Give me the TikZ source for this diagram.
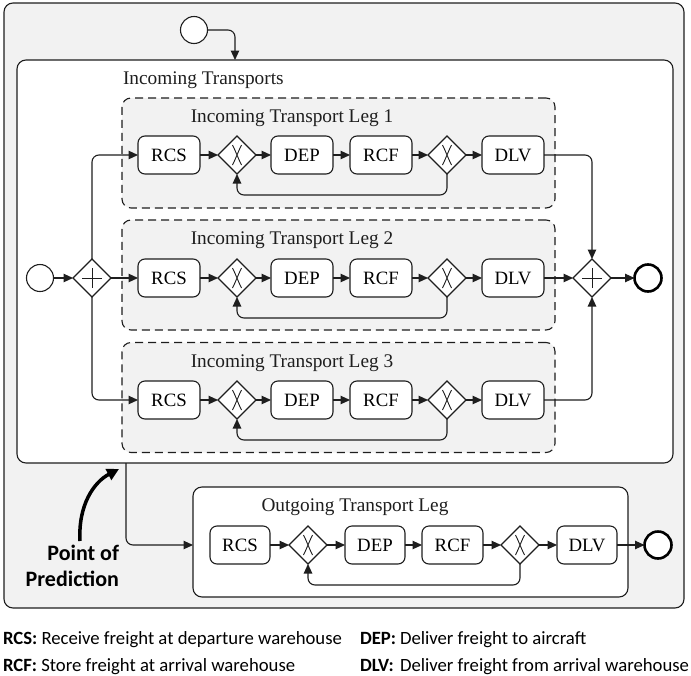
\documentclass[tikz,border=0pt]{standalone}
\usepackage{fontspec}
\setmainfont{Liberation Serif}
\newfontfamily\legfont{Carlito}
\usetikzlibrary{shapes.geometric,arrows.meta,calc}
\definecolor{bg}{HTML}{F2F2F2}
\definecolor{ln}{HTML}{1E1E1E}
\newcommand\xgw[1]{\draw[line width=0.9pt,ln] ([shift={(-4.5,-10)}]#1.center) .. controls ([shift={(-1,-3)}]#1.center) and ([shift={(1,3)}]#1.center) .. ([shift={(4.5,10)}]#1.center) ([shift={(4.5,-10)}]#1.center) .. controls ([shift={(1,-3)}]#1.center) and ([shift={(-1,3)}]#1.center) .. ([shift={(-4.5,10)}]#1.center);}
\newcommand\pgw[1]{\draw[line width=1pt,ln] ([shift={(-10,0)}]#1.center) -- ([shift={(10,0)}]#1.center) ([shift={(0,-10)}]#1.center) -- ([shift={(0,10)}]#1.center);}
\begin{document}
\begin{tikzpicture}[x=1pt,y=-1pt,
  every node/.style={inner sep=0pt, outer sep=0pt},
  task/.style={draw=ln, line width=1.1pt, fill=white, rounded corners=7pt, minimum width=62pt, minimum height=38pt, font=\fontsize{18.8}{20}\selectfont},
  gw/.style={draw=ln, line width=1.1pt, fill=white, diamond, minimum width=38pt, minimum height=38pt},
  ev/.style={draw=ln, line width=1.1pt, fill=white, circle, minimum size=27pt},
  endev/.style={draw=black, line width=2.6pt, fill=white, circle, minimum size=27pt},
  flow/.style={draw=ln, line width=1.1pt, -{Triangle[length=9.5pt,width=8.5pt]}, rounded corners=7pt},
  seg/.style={draw=ln, line width=1.1pt, dash pattern=on 8pt off 5pt, fill=bg, rounded corners=9pt, minimum width=433pt, minimum height=110pt},
  box/.style={draw=ln, line width=1.1pt, rounded corners=9pt},
  lbl/.style={font=\fontsize{19.3}{21}\selectfont, text=ln},
  leg/.style={anchor=base west, font=\legfont\fontsize{18.7}{20}\selectfont},
]
\useasboundingbox (0,0) rectangle (691,675);
% containers
\node[box, fill=bg, minimum width=680pt, minimum height=605pt] (outer) at (344,305.5) {};
\node[box, fill=white, minimum width=656pt, minimum height=403pt] (inc) at (345,261.5) {};
\node[seg] (l1) at (338.5,153) {};
\node[seg] (l2) at (338.5,275) {};
\node[seg] (l3) at (338.5,397.5) {};
\node[box, fill=white, minimum width=435pt, minimum height=110pt] (out) at (410.5,542) {};
% labels
\node[lbl, anchor=west] (tinc) at (123,80) {Incoming Transports};
\node[lbl] (tl1) at (292,118) {Incoming Transport Leg 1};
\node[lbl] (tl2) at (292,240) {Incoming Transport Leg 2};
\node[lbl] (tl3) at (292,363) {Incoming Transport Leg 3};
\node[lbl] (tout) at (355,507) {Outgoing Transport Leg};
% events
\node[ev] (s0) at (194,30) {};
\node[ev] (s1) at (40,278) {};
\node[endev] (e1) at (648,278) {};
\node[endev] (eo) at (658,545) {};
% gateways
\node[gw] (p1) at (92,278) {};
\node[gw] (p2) at (592,278) {};
\pgw{p1}\pgw{p2}
% rows
\foreach \r/\y in {1/155,2/278,3/400}{
  \node[task] (rcs\r) at (169,\y) {RCS};
  \node[gw] (ga\r) at (237,\y) {};
  \node[task] (dep\r) at (302,\y) {DEP};
  \node[task] (rcf\r) at (381,\y) {RCF};
  \node[gw] (gb\r) at (447,\y) {};
  \node[task] (dlv\r) at (513,\y) {DLV};
  \xgw{ga\r}\xgw{gb\r}
  \draw[flow] (rcs\r) -- (ga\r);
  \draw[flow] (ga\r) -- (dep\r);
  \draw[flow] (dep\r) -- (rcf\r);
  \draw[flow] (rcf\r) -- (gb\r);
  \draw[flow] (gb\r) -- (dlv\r);
  \draw[flow] (gb\r.south) -- ++(0,21) -| (ga\r.south);
}
% outgoing row
\node[task, minimum width=60pt] (rcso) at (240,545) {RCS};
\node[gw] (gao) at (308,545) {};
\node[task, minimum width=60pt] (depo) at (375,545) {DEP};
\node[task, minimum width=61pt] (rcfo) at (452.5,545) {RCF};
\node[gw] (gbo) at (520,545) {};
\node[task, minimum width=60pt] (dlvo) at (587,545) {DLV};
\xgw{gao}\xgw{gbo}
\draw[flow] (rcso) -- (gao);
\draw[flow] (gao) -- (depo);
\draw[flow] (depo) -- (rcfo);
\draw[flow] (rcfo) -- (gbo);
\draw[flow] (gbo) -- (dlvo);
\draw[flow] (gbo.south) -- ++(0,21) -| (gao.south);
\draw[flow] (dlvo) -- (eo);
% split / join
\draw[flow] (s0.east) -| ([xshift=218pt]inc.north west);
\draw[flow] (s1) -- (p1);
\draw[flow] (p1.north) |- (rcs1.west);
\draw[flow] (p1.east) -- (rcs2.west);
\draw[flow] (p1.south) |- (rcs3.west);
\draw[flow] (dlv1.east) -| (p2.north);
\draw[flow] (dlv2.east) -- (p2.west);
\draw[flow] (dlv3.east) -| (p2.south);
\draw[flow] (p2) -- (e1);
\draw[flow] ([xshift=109pt]inc.south west) |- (out.west |- rcso);
% point of prediction
\node[font=\legfont\bfseries\fontsize{22}{26}\selectfont, align=right, anchor=north east] (pp) at (119,545) {Point of\\Prediction};
\coordinate (ppt) at (119,469);
\draw[line width=3.5pt, -{Triangle[length=12pt,width=12pt]}] (80,541) .. controls (78,505) and (94,482) .. (ppt);
% legend
\node[leg] (lg1) at (3,644) {\textbf{RCS:} Receive freight at departure warehouse};
\node[leg] (lg2) at (3,671) {\textbf{RCF:} Store freight at arrival warehouse};
\node[leg] (lg3) at (360,644) {\textbf{DEP:}};
\node[leg] (lg4) at (400,644) {Deliver freight to aircraft};
\node[leg] (lg5) at (360,671) {\textbf{DLV:}};
\node[leg] (lg6) at (400,671) {Deliver freight from arrival warehouse};
\end{tikzpicture}
\end{document}
